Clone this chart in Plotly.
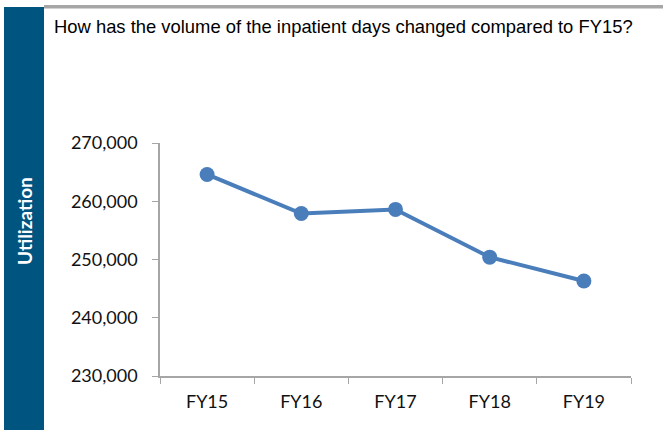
import plotly.graph_objects as go

categories = ["FY15", "FY16", "FY17", "FY18", "FY19"]
inpatient_days = [264600, 257900, 258600, 250400, 246300]
y_ticks = [230000, 240000, 250000, 260000, 270000]
title_text = "How has the volume of the inpatient days changed compared to FY15?"
side_label = "Utilization"

W, H = 663, 430
L, R, T, B = 160, 32, 143, 54
pw, ph = W - L - R, H - T - B

def px_x(p):
    return (p - L) / pw

def px_y(p):
    return 1 - (p - T) / ph

fig = go.Figure()
fig.add_trace(go.Scatter(
    x=categories, y=inpatient_days, mode="lines+markers",
    line=dict(color="#4A7EBB", width=4),
    marker=dict(color="#4A7EBB", size=15),
    showlegend=False, hoverinfo="x+y",
))

tick_font = dict(family="Lato, Open Sans, sans-serif", size=18, color="#111")

fig.update_layout(
    width=W, height=H,
    margin=dict(l=L, r=R, t=T, b=B, pad=0),
    paper_bgcolor="white", plot_bgcolor="white",
    xaxis=dict(
        type="category", range=[-0.5, 4.5], tickson="boundaries",
        ticks="outside", ticklen=6, tickcolor="#A6A6A6",
        showline=True, linecolor="#A6A6A6", linewidth=1.5,
        showgrid=False, zeroline=False, ticklabelstandoff=9,
        tickfont=tick_font,
    ),
    yaxis=dict(
        range=[230000, 270000], tickvals=y_ticks, tickformat=",",
        ticks="outside", ticklen=6, tickcolor="#A6A6A6",
        showline=True, linecolor="#A6A6A6", linewidth=1.5,
        showgrid=False, zeroline=False, ticklabelstandoff=11,
        tickfont=tick_font,
    ),
    shapes=[
        dict(type="rect", xref="paper", yref="paper",
             x0=px_x(4), x1=px_x(44), y0=px_y(7), y1=px_y(431),
             fillcolor="#005580", line=dict(width=0), layer="below"),
        dict(type="rect", xref="paper", yref="paper",
             x0=px_x(44), x1=px_x(664), y0=px_y(5), y1=px_y(8.5),
             fillcolor="#A6A6A6", line=dict(width=0), layer="below"),
    ],
    annotations=[
        dict(text=title_text, xref="paper", yref="paper",
             x=px_x(52), y=px_y(27), xanchor="left", yanchor="middle",
             showarrow=False,
             font=dict(family="Liberation Sans Narrow, Arial Narrow, Liberation Sans, sans-serif",
                       size=18.4, color="#000")),
        dict(text="<b>" + side_label + "</b>", xref="paper", yref="paper",
             x=px_x(24), y=px_y(221), xanchor="center", yanchor="middle",
             textangle=-90, showarrow=False,
             font=dict(family="Lato, Open Sans, sans-serif", size=19, color="white")),
    ],
)

fig.write_html(
    "out.html",
    config={"displayModeBar": False},
    post_script="document.body.style.margin='0';document.body.style.padding='0';",
)
